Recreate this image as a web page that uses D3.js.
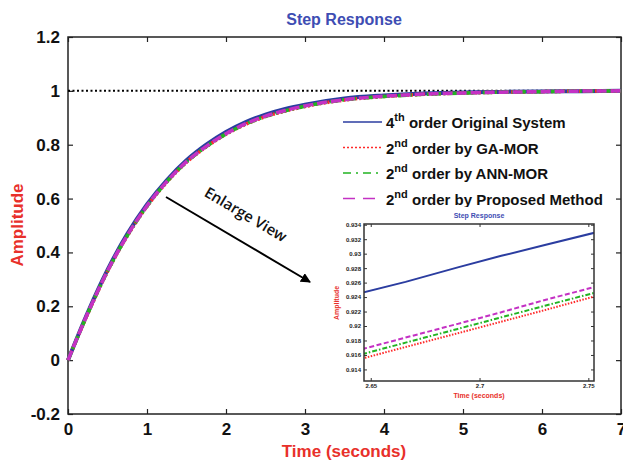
<!DOCTYPE html>
<html>
<head>
<meta charset="utf-8">
<script src="https://cdn.jsdelivr.net/npm/d3@7"></script>
<style>
  body { margin: 0; background: #fff; }
  svg { display: block; font-family: "Liberation Sans", Arial, sans-serif; }
</style>
</head>
<body>
<div id="chart"></div>
<script>
// main step response
const timeS = [0, 0.25, 0.5, 0.75, 1, 1.25, 1.5, 1.75, 2, 2.25, 2.5, 2.75, 3, 3.5, 4, 4.5, 5, 5.5, 6, 6.5, 7];
const original4th = [0, 0.177, 0.335, 0.468, 0.578, 0.668, 0.742, 0.8, 0.847, 0.884, 0.912, 0.933, 0.949, 0.972, 0.983, 0.99, 0.994, 0.996, 0.998, 0.999, 1.0];
const gaMor =       [0, 0.172, 0.329, 0.461, 0.571, 0.661, 0.735, 0.792, 0.839, 0.876, 0.904, 0.925, 0.942, 0.966, 0.979, 0.987, 0.992, 0.995, 0.997, 0.999, 1.0];
const annMor =      [0, 0.173, 0.33, 0.462, 0.572, 0.662, 0.736, 0.793, 0.84, 0.877, 0.905, 0.926, 0.943, 0.967, 0.979, 0.987, 0.992, 0.995, 0.997, 0.999, 1.0];
const proposed =    [0, 0.174, 0.331, 0.463, 0.573, 0.663, 0.737, 0.794, 0.841, 0.878, 0.906, 0.927, 0.944, 0.967, 0.98, 0.988, 0.992, 0.995, 0.997, 0.999, 1.0];

// enlarged window
const zoomTime = [2.646, 2.666, 2.69, 2.71, 2.73, 2.753];
const zoomOriginal = [0.9246, 0.9261, 0.9281, 0.9297, 0.9312, 0.9329];
const zoomGa =       [0.9155, 0.9171, 0.9190, 0.9206, 0.9222, 0.9241];
const zoomAnn =      [0.9161, 0.9177, 0.9196, 0.9212, 0.9228, 0.9246];
const zoomProposed = [0.9168, 0.9184, 0.9203, 0.9219, 0.9236, 0.9254];

const xTicks = [0, 1, 2, 3, 4, 5, 6, 7];
const yTicks = [-0.2, 0, 0.2, 0.4, 0.6, 0.8, 1, 1.2];
const zoomXTicks = [2.65, 2.7, 2.75];
const zoomYTicks = [0.914, 0.916, 0.918, 0.92, 0.922, 0.924, 0.926, 0.928, 0.93, 0.932, 0.934];

const seriesNames = ["4th order Original System", "2nd order by GA-MOR", "2nd order by ANN-MOR", "2nd order by Proposed Method"];

const W = 623, H = 463;
const red = "#e8302a", titleBlue = "#3e4db3";
const styles = [
  { color: "#2b3da0", dash: null,        legDash: null },
  { color: "#ff2a2a", dash: "2,2",       legDash: "2,2" },
  { color: "#22b422", dash: "9,3,2,3",   legDash: "8,5,2,5" },
  { color: "#c431c4", dash: "10,4",      legDash: "12,8" }
];

const svg = d3.select("#chart").append("svg").attr("width", W).attr("height", H);

const x = d3.scaleLinear().domain([0, 7]).range([68, 621]);
const y = d3.scaleLinear().domain([-0.2, 1.2]).range([414, 37]);

// title
svg.append("text").attr("x", 344).attr("y", 25).attr("text-anchor", "middle")
  .attr("font-size", 16).attr("font-weight", "bold").attr("fill", titleBlue).text("Step Response");

// axes
const fmt = d => (Math.round(d * 10) / 10).toString();
svg.append("g").attr("transform", "translate(0,414)")
  .call(d3.axisBottom(x).tickValues(xTicks).tickSize(-5).tickPadding(9).tickFormat(fmt))
  .call(g => g.select(".domain").remove());
svg.append("g").attr("transform", "translate(0,37)")
  .call(d3.axisTop(x).tickValues(xTicks).tickSize(-5).tickFormat(""))
  .call(g => g.select(".domain").remove());
svg.append("g").attr("transform", "translate(68,0)")
  .call(d3.axisLeft(y).tickValues(yTicks).tickSize(-5).tickPadding(8).tickFormat(fmt))
  .call(g => g.select(".domain").remove());
svg.append("g").attr("transform", "translate(621,0)")
  .call(d3.axisRight(y).tickValues(yTicks).tickSize(-5).tickFormat(""))
  .call(g => g.select(".domain").remove());
svg.selectAll(".tick line").attr("stroke", "#222").attr("stroke-width", 1.2);
svg.selectAll(".tick text").attr("font-size", 17).attr("font-weight", "bold")
  .attr("fill", "#111").attr("font-family", "'Liberation Sans', Arial, sans-serif");

svg.append("rect").attr("x", 68).attr("y", 37).attr("width", 621 - 68).attr("height", 414 - 37)
  .attr("fill", "none").attr("stroke", "#222").attr("stroke-width", 1.5);

// axis labels
svg.append("text").attr("x", 344).attr("y", 457).attr("text-anchor", "middle")
  .attr("font-size", 17).attr("font-weight", "bold").attr("fill", red).text("Time (seconds)");
svg.append("text").attr("transform", "translate(23,225) rotate(-90)").attr("text-anchor", "middle")
  .attr("font-size", 17).attr("font-weight", "bold").attr("fill", red).text("Amplitude");

// steady state reference
svg.append("line").attr("x1", x(0)).attr("x2", x(7)).attr("y1", y(1)).attr("y2", y(1))
  .attr("stroke", "#000").attr("stroke-width", 2).attr("stroke-dasharray", "2,2.5");

// curves
const mainSeries = [original4th, gaMor, annMor, proposed];
const line = d3.line().x(d => x(d[0])).y(d => y(d[1])).curve(d3.curveMonotoneX);
mainSeries.forEach((vals, i) => {
  svg.append("path").datum(timeS.map((t, k) => [t, vals[k]]))
    .attr("d", line).attr("fill", "none")
    .attr("stroke", styles[i].color).attr("stroke-width", i === 0 ? 4 : 3.5)
    .attr("stroke-dasharray", styles[i].dash);
});

// legend
const legend = svg.append("g").attr("transform", "translate(343,122)");
seriesNames.forEach((name, i) => {
  const g = legend.append("g").attr("transform", `translate(0,${i * 25.5})`);
  g.append("line").attr("x1", 0).attr("x2", 39).attr("y1", 0).attr("y2", 0)
    .attr("stroke", styles[i].color).attr("stroke-width", 1.5).attr("stroke-dasharray", styles[i].legDash);
  const t = g.append("text").attr("x", 43).attr("y", 6).attr("font-size", 15).attr("font-weight", "bold").attr("fill", "#111");
  const m = name.match(/^(\d)(th|nd)(.*)$/);
  t.append("tspan").text(m[1]);
  t.append("tspan").attr("font-size", 11).attr("dy", -7).text(m[2]);
  t.append("tspan").attr("dy", 7).text(m[3]);
});

// arrow + caption
svg.append("defs").append("marker").attr("id", "head").attr("viewBox", "0 0 10 10")
  .attr("refX", 9).attr("refY", 5).attr("markerWidth", 5).attr("markerHeight", 5).attr("orient", "auto")
  .append("path").attr("d", "M0,0 L10,5 L0,10 z").attr("fill", "#000");
svg.append("line").attr("x1", 166).attr("y1", 197).attr("x2", 310).attr("y2", 282)
  .attr("stroke", "#000").attr("stroke-width", 2).attr("marker-end", "url(#head)");
svg.append("text").attr("transform", "translate(243,219) rotate(30.5)").attr("text-anchor", "middle")
  .attr("font-size", 15).attr("font-weight", "600").attr("font-family", "'Open Sans', Lato, sans-serif")
  .attr("fill", "#111").text("Enlarge View");

// inset
const ix = d3.scaleLinear().domain([2.6469, 2.7526]).range([364, 594]);
const iy = d3.scaleLinear().domain([0.9124, 0.9341]).range([381, 224]);
const inset = svg.append("g");
inset.append("rect").attr("x", 330).attr("y", 207).attr("width", 272).attr("height", 196).attr("fill", "#fff");
inset.append("text").attr("x", 479).attr("y", 218).attr("text-anchor", "middle")
  .attr("font-size", 7).attr("font-weight", "bold").attr("fill", titleBlue).text("Step Response");
inset.append("g").attr("transform", "translate(0,381)")
  .call(d3.axisBottom(ix).tickValues(zoomXTicks).tickSize(-3).tickPadding(3).tickFormat(d => d.toString()))
  .call(g => g.select(".domain").remove());
inset.append("g").attr("transform", "translate(0,224)")
  .call(d3.axisTop(ix).tickValues(zoomXTicks).tickSize(-3).tickFormat(""))
  .call(g => g.select(".domain").remove());
inset.append("g").attr("transform", "translate(364,0)")
  .call(d3.axisLeft(iy).tickValues(zoomYTicks).tickSize(-3).tickPadding(3).tickFormat(d => d.toString()))
  .call(g => g.select(".domain").remove());
inset.append("g").attr("transform", "translate(594,0)")
  .call(d3.axisRight(iy).tickValues(zoomYTicks).tickSize(-3).tickFormat(""))
  .call(g => g.select(".domain").remove());
inset.selectAll(".tick line").attr("stroke", "#333").attr("stroke-width", 1);
inset.selectAll(".tick text").attr("font-size", 6).attr("font-weight", "bold").attr("fill", "#222")
  .attr("font-family", "'Liberation Sans', Arial, sans-serif");
inset.append("text").attr("x", 479).attr("y", 398).attr("text-anchor", "middle")
  .attr("font-size", 7).attr("font-weight", "bold").attr("fill", red).text("Time (seconds)");
inset.append("text").attr("transform", "translate(339,303) rotate(-90)").attr("text-anchor", "middle")
  .attr("font-size", 7).attr("font-weight", "bold").attr("fill", red).text("Amplitude");

const zoomSeries = [zoomOriginal, zoomGa, zoomAnn, zoomProposed];
const zLine = d3.line().x(d => ix(d[0])).y(d => iy(d[1]));
const zDash = [null, "1.5,1.5", "5,2,1.5,2", "5,2.5"];
inset.append("clipPath").attr("id", "iclip").append("rect").attr("x", 364).attr("y", 224).attr("width", 230).attr("height", 157);
zoomSeries.forEach((vals, i) => {
  inset.append("path").datum(zoomTime.map((t, k) => [t, vals[k]]))
    .attr("d", zLine).attr("fill", "none").attr("clip-path", "url(#iclip)")
    .attr("stroke", styles[i].color).attr("stroke-width", 2)
    .attr("stroke-dasharray", zDash[i]);
});
inset.append("rect").attr("x", 364).attr("y", 224).attr("width", 230).attr("height", 157)
  .attr("fill", "none").attr("stroke", "#333").attr("stroke-width", 1.5);
</script>
</body>
</html>
